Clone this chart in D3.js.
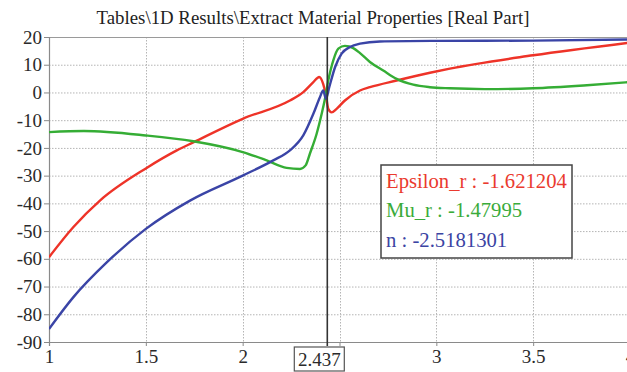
<!DOCTYPE html>
<html>
<head>
<meta charset="utf-8">
<script src="https://cdn.jsdelivr.net/npm/d3@7"></script>
<style>
  html, body { margin: 0; padding: 0; background: #ffffff; }
  svg { display: block; }
  text { font-family: "Liberation Serif", "Times New Roman", serif; }
</style>
</head>
<body>
<svg id="chart" width="627" height="372"></svg>
<script>
// ---- data ----
const titleText = "Tables\\1D Results\\Extract Material Properties [Real Part]";

const epsFreq = [1.0, 1.125, 1.263, 1.5, 1.66, 1.745, 2.0, 2.244, 2.313, 2.365, 2.395, 2.416, 2.43, 2.442, 2.459, 2.485, 2.528, 2.606, 2.657, 2.795, 2.967, 3.07, 3.5, 3.99];
const epsVals = [-59.4, -48.6, -39, -27.4, -20.9, -18.0, -9.5, -2.9, 0.1, 3.7, 5.6, 3.0, -1.1, -5.9, -7.2, -5.9, -2.9, 0.7, 1.9, 4.3, 7.1, 8.6, 13.4, 17.9];

const muFreq = [1.0, 1.18, 1.5, 1.745, 2.0, 2.124, 2.227, 2.296, 2.325, 2.347, 2.382, 2.408, 2.425, 2.442, 2.468, 2.494, 2.528, 2.571, 2.606, 2.657, 2.726, 2.795, 2.881, 2.967, 3.07, 3.25, 3.5, 3.76, 3.99];
const muVals = [-14.3, -13.9, -15.5, -17.6, -21.5, -24.5, -27.2, -27.6, -26.3, -22.1, -14.9, -7.7, -2.3, 4.3, 11.6, 15.8, 16.8, 16.0, 14.2, 11.0, 7.9, 4.9, 2.8, 1.9, 1.5, 1.2, 1.5, 2.5, 3.7];

const nFreq = [1.0, 1.125, 1.298, 1.5, 1.728, 2.0, 2.158, 2.244, 2.313, 2.365, 2.399, 2.416, 2.43, 2.447, 2.477, 2.511, 2.554, 2.606, 2.709, 3.0, 3.5, 3.99];
const nVals = [-85.3, -73.9, -61.3, -49.2, -39, -30, -24.5, -20.9, -15.5, -7.7, -1.7, 0.7, -2.3, 1.9, 9.1, 14, 16.4, 17.6, 18.4, 18.6, 18.7, 19.1];

const seriesNames = ["Epsilon_r", "Mu_r", "n"];
const cursorX = 2.437;
const cursorValues = ["-1.621204", "-1.47995", "-2.5181301"];

const yTicks = [20, 10, 0, -10, -20, -30, -40, -50, -60, -70, -80, -90];
const xGridTicks = [1.5, 2, 2.5, 3, 3.5];
const xTickLabels = [1, 1.5, 2, 3, 3.5, 4];

// ---- layout ----
const W = 627, H = 372;
const plotLeft = 49, plotRight = 630, plotTop = 37, plotBottom = 342;
const colors = ["#ee3328", "#35ad35", "#3a44a6"];
const textColors = ["#ea3a2e", "#3aab3a", "#3b44a3"];

const svg = d3.select("#chart");

const x = d3.scaleLinear().domain([1, 4]).range([plotLeft, plotRight]);
const y = d3.scaleLinear().domain([-90, 20]).range([plotBottom, plotTop]);

// title
const title = svg.append("text")
  .attr("x", 313).attr("y", 24)
  .attr("text-anchor", "middle")
  .attr("font-size", 18)
  .attr("fill", "#222")
  .text(titleText);
(function fit(el, target) {
  const len = el.node().getComputedTextLength();
  if (len > 0) el.attr("font-size", 18 * target / len);
})(title, 433);

// clip
svg.append("defs").append("clipPath").attr("id", "plotclip")
  .append("rect").attr("x", plotLeft).attr("y", plotTop - 2)
  .attr("width", plotRight - plotLeft).attr("height", plotBottom - plotTop + 4);

// grid
const grid = svg.append("g");
grid.selectAll("line.hg").data(yTicks.filter(d => d !== 20 && d !== -90)).join("line")
  .attr("x1", plotLeft).attr("x2", W)
  .attr("y1", d => y(d) + 0.5).attr("y2", d => y(d) + 0.5)
  .attr("stroke", "#b5b5b5").attr("stroke-width", 1).attr("stroke-dasharray", "1.5,1.5");
grid.selectAll("line.vg").data(xGridTicks).join("line")
  .attr("x1", d => Math.round(x(d)) + 0.5).attr("x2", d => Math.round(x(d)) + 0.5)
  .attr("y1", plotTop).attr("y2", plotBottom)
  .attr("stroke", "#b5b5b5").attr("stroke-width", 1).attr("stroke-dasharray", "1.5,1.5");
// top border
svg.append("line").attr("x1", plotLeft).attr("x2", W)
  .attr("y1", plotTop + 0.5).attr("y2", plotTop + 0.5)
  .attr("stroke", "#9a9a9a").attr("stroke-width", 1.2);

// y axis
const yAxis = d3.axisLeft(y).tickValues(yTicks).tickSize(5).tickPadding(2).tickFormat(d3.format("d"));
const gy = svg.append("g").attr("transform", `translate(${plotLeft},0)`).call(yAxis);
gy.select(".domain").attr("stroke", "#8a8a8a").attr("stroke-width", 1.2);
gy.selectAll(".tick line").attr("stroke", "#8a8a8a");
gy.selectAll(".tick text").attr("font-family", "Liberation Serif, serif").attr("font-size", 19).attr("fill", "#2a2a2a")
  .text(d => d < 0 ? "-" + Math.abs(d) : d);

// x axis
const xAxis = d3.axisBottom(x).tickValues(xTickLabels).tickSize(4).tickPadding(4).tickFormat(d => d);
const gx = svg.append("g").attr("transform", `translate(0,${plotBottom})`).call(xAxis);
gx.select(".domain").attr("stroke", "#8a8a8a").attr("stroke-width", 1.2);
gx.selectAll(".tick line").attr("stroke", "#8a8a8a");
gx.selectAll(".tick text").attr("font-family", "Liberation Serif, serif").attr("font-size", 19).attr("fill", "#2a2a2a");
// minor tick at 2.5 (label hidden by cursor box)
svg.append("line").attr("x1", x(2.5) + 0.5).attr("x2", x(2.5) + 0.5)
  .attr("y1", plotBottom).attr("y2", plotBottom + 4).attr("stroke", "#8a8a8a");

// lines
const line = d3.line().x(d => x(d[0])).y(d => y(d[1])).curve(d3.curveMonotoneX);
const series = [
  d3.zip(epsFreq, epsVals),
  d3.zip(muFreq, muVals),
  d3.zip(nFreq, nVals)
];
const lines = svg.append("g").attr("clip-path", "url(#plotclip)");
lines.selectAll("path").data(series).join("path")
  .attr("d", line)
  .attr("fill", "none")
  .attr("stroke", (d, i) => colors[i])
  .attr("stroke-width", 2.4)
  .attr("stroke-linejoin", "round");

// cursor line
svg.append("line")
  .attr("x1", x(cursorX)).attr("x2", x(cursorX))
  .attr("y1", plotTop).attr("y2", plotBottom + 4)
  .attr("stroke", "#333").attr("stroke-width", 1.6);

// cursor label box
const cx = x(cursorX) - 8;
svg.append("rect").attr("x", cx - 25).attr("y", 347).attr("width", 50).attr("height", 24)
  .attr("fill", "#fff").attr("stroke", "#555").attr("stroke-width", 1.2);
svg.append("text").attr("x", cx).attr("y", 366).attr("text-anchor", "middle")
  .attr("font-size", 19).attr("fill", "#2a2a2a").text(String(cursorX));

// legend box
const lg = svg.append("g");
lg.append("rect").attr("x", 381).attr("y", 165).attr("width", 191).attr("height", 93)
  .attr("fill", "#fff").attr("stroke", "#444").attr("stroke-width", 1.5);
const baselines = [188, 217, 247];
const lt = lg.selectAll("text").data(seriesNames).join("text")
  .attr("x", 386).attr("y", (d, i) => baselines[i])
  .attr("font-size", 19)
  .attr("fill", (d, i) => textColors[i])
  .text((d, i) => d + " : " + cursorValues[i]);
const firstLen = lt.nodes()[0].getComputedTextLength();
if (firstLen > 0) lt.attr("font-size", 19 * 181 / firstLen);
</script>
</body>
</html>
